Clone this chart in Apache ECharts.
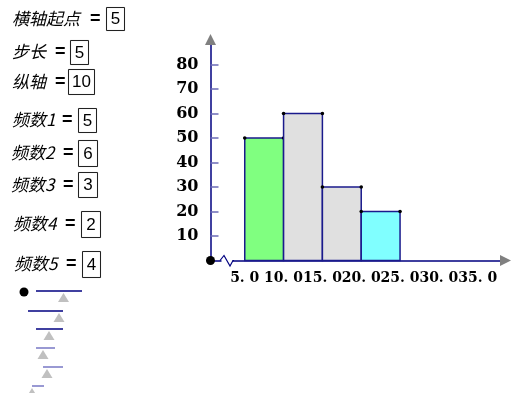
<!DOCTYPE html>
<html>
<head>
<meta charset="utf-8">
<script src="https://cdn.jsdelivr.net/npm/echarts@6/dist/echarts.min.js"></script>
<style>
html,body{margin:0;padding:0;background:#fff;}
#chart{width:517px;height:393px;}
</style>
</head>
<body>
<div id="chart"></div>
<script>
// ---- data ----
const xStart = 5;
const stepSize = 5;
const yUnit = 10;
const barStarts = [5, 10, 15, 20];
const barHeights = [50, 60, 30, 20];
const barColors = ['#80ff80', '#e0e0e0', '#e0e0e0', '#80ffff'];
const xTicks = [5, 10, 15, 20, 25, 30, 35];
const xTickLabels = ['5. 0', '10. 0', '15. 0', '20. 0', '25. 0', '30. 0', '35. 0'];
const yTicks = [10, 20, 30, 40, 50, 60, 70, 80];
const yTickLabels = ['10', '20', '30', '40', '50', '60', '70', '80'];
const inputLabels = ['横轴起点', '步长', '纵轴', '频数1', '频数2', '频数3', '频数4', '频数5'];
const inputValues = ['5', '5', '10', '5', '6', '3', '2', '4'];

// ---- layout (styles / positions) ----
const rowLayout = [
  {lx: 12, cy: 19, ex: 90, bx: 106, by: 7, bw: 18, bh: 23},
  {lx: 12, cy: 52, ex: 55, bx: 70, by: 40, bw: 18, bh: 24},
  {lx: 12, cy: 82, ex: 55, bx: 68, by: 69, bw: 26, bh: 25},
  {lx: 12, cy: 120, ex: 62, bx: 78, by: 108, bw: 18, bh: 24},
  {lx: 11, cy: 153, ex: 63, bx: 78, by: 140, bw: 19, bh: 26},
  {lx: 11, cy: 185, ex: 63, bx: 78, by: 172, bw: 19, bh: 25},
  {lx: 13, cy: 224, ex: 65, bx: 81, by: 211, bw: 19, bh: 26},
  {lx: 14, cy: 264, ex: 66, bx: 82, by: 251, bw: 18, bh: 26}
];
const sliderLayout = [
  {y: 291, x1: 36, x2: 82, tx: 63.5, c: '#000080'},
  {y: 311, x1: 28, x2: 63, tx: 59, c: '#000080'},
  {y: 329, x1: 36, x2: 63, tx: 49, c: '#000080'},
  {y: 348, x1: 36, x2: 55, tx: 43, c: '#7777c4'},
  {y: 367, x1: 43, x2: 63, tx: 47, c: '#7777c4'},
  {y: 386, x1: 32, x2: 44, tx: 32, c: '#7777c4'}
];

const graphics = [];
rowLayout.forEach((r, i) => {
  graphics.push({type: 'text', x: r.lx, y: r.cy, z: 100,
    style: {text: inputLabels[i], font: 'italic 17px "Noto Sans CJK SC", sans-serif', fill: '#000', verticalAlign: 'middle'}});
  graphics.push({type: 'text', x: r.ex, y: r.cy, z: 100,
    style: {text: '=', font: 'bold 18px "Liberation Sans", Arial, sans-serif', fill: '#000', verticalAlign: 'middle'}});
  graphics.push({type: 'rect', z: 100, shape: {x: r.bx + 0.5, y: r.by + 0.5, width: r.bw, height: r.bh},
    style: {fill: '#fff', stroke: '#222', lineWidth: 1, shadowColor: 'rgba(0,0,0,0.25)', shadowBlur: 1}});
  graphics.push({type: 'text', x: r.bx + r.bw / 2 + 0.5, y: r.by + r.bh / 2 + 1, z: 101,
    style: {text: inputValues[i], font: '17px "Liberation Sans", Arial, sans-serif', fill: '#000', align: 'center', verticalAlign: 'middle'}});
});
graphics.push({type: 'circle', z: 100, shape: {cx: 24, cy: 292, r: 4.5}, style: {fill: '#000'}});
sliderLayout.forEach(s => {
  graphics.push({type: 'line', z: 100, shape: {x1: s.x1, y1: s.y, x2: s.x2, y2: s.y}, style: {stroke: s.c, lineWidth: 1.5}});
  graphics.push({type: 'polygon', z: 101, shape: {points: [[s.tx, s.y + 2], [s.tx - 5.5, s.y + 11], [s.tx + 5.5, s.y + 11]]}, style: {fill: '#c0c0c0'}});
});
// axis arrows, break mark and origin point
graphics.push({type: 'polygon', z: 100, shape: {points: [[210.5, 34], [205, 45], [216, 45]]}, style: {fill: '#808080'}});
graphics.push({type: 'polygon', z: 100, shape: {points: [[511, 260.5], [500, 255], [500, 266]]}, style: {fill: '#808080'}});
graphics.push({type: 'rect', z: 100, shape: {x: 221.5, y: 257, width: 11, height: 7}, style: {fill: '#fff'}});
graphics.push({type: 'polyline', z: 101, shape: {points: [[220, 260.5], [224, 255.5], [230, 266], [233, 260.5], [234, 260.5]]}, style: {stroke: '#000080', lineWidth: 1.2, fill: null}});
graphics.push({type: 'circle', z: 102, shape: {cx: 210.5, cy: 260.5, r: 4.5}, style: {fill: '#000'}});

const chart = echarts.init(document.getElementById('chart'), null, {renderer: 'canvas'});
chart.setOption({
  animation: false,
  backgroundColor: '#fff',
  grid: {left: 210.5, right: 16, top: 45, bottom: 132.5, containLabel: false},
  xAxis: {
    type: 'value', min: 0.59, max: 38,
    splitLine: {show: false},
    axisLine: {show: true, onZero: false, lineStyle: {color: '#000080', width: 1.5}},
    axisTick: {show: false},
    axisLabel: {
      show: true, customValues: xTicks, margin: 11,
      formatter: v => xTickLabels[xTicks.indexOf(v)] || '',
      color: '#000', fontFamily: '"DejaVu Serif", serif', fontWeight: 'bold', fontSize: 14
    }
  },
  yAxis: {
    type: 'value', min: 0, max: 88,
    splitLine: {show: false},
    axisLine: {show: true, onZero: false, lineStyle: {color: '#000080', width: 1.5}},
    axisTick: {show: true, inside: true, length: 8, customValues: yTicks, lineStyle: {color: '#6b6bb5', width: 1.5}},
    axisLabel: {
      show: true, customValues: yTicks, margin: 12,
      formatter: v => yTickLabels[yTicks.indexOf(v)] || '',
      color: '#000', fontFamily: '"DejaVu Serif", serif', fontWeight: 'bold', fontSize: 16
    }
  },
  graphic: graphics,
  series: [{
    type: 'custom',
    data: barStarts.map((s, i) => [s, s + stepSize, barHeights[i]]),
    encode: {x: [0, 1], y: 2},
    renderItem: (params, api) => {
      const p0 = api.coord([api.value(0), 0]);
      const p1 = api.coord([api.value(1), api.value(2)]);
      return {
        type: 'group',
        children: [
          {type: 'rect', shape: {x: p0[0], y: p1[1], width: p1[0] - p0[0], height: p0[1] - p1[1]},
            style: {fill: barColors[params.dataIndex], stroke: '#1a1a8c', lineWidth: 1.5}},
          {type: 'circle', shape: {cx: p0[0], cy: p1[1], r: 1.8}, style: {fill: '#000'}},
          {type: 'circle', shape: {cx: p1[0], cy: p1[1], r: 1.8}, style: {fill: '#000'}}
        ]
      };
    }
  }]
});
</script>
</body>
</html>
